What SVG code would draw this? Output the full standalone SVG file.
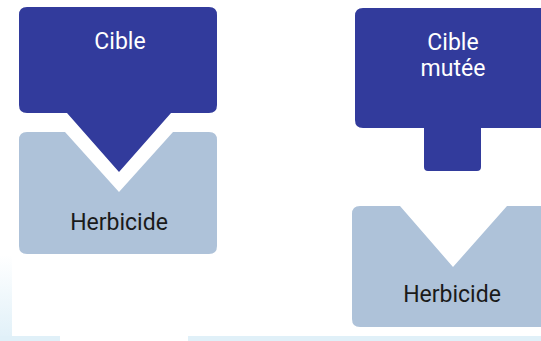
<svg xmlns="http://www.w3.org/2000/svg" width="541" height="341" viewBox="0 0 541 341">
<style>
.target{fill:#323b9c}
.herb{fill:#aec2d9}
.lw{font-family:Roboto,"Liberation Sans",sans-serif;font-size:23px;fill:#ffffff;text-anchor:middle}
.lb{font-family:Roboto,"Liberation Sans",sans-serif;font-size:23px;fill:#1a1a1a;text-anchor:middle}
</style>
<defs>
<linearGradient id="fade" x1="0" y1="0" x2="0" y2="1">
<stop offset="0" stop-color="#e0f0f8" stop-opacity="0"/>
<stop offset="1" stop-color="#e0f0f8"/>
</linearGradient>
</defs>
<rect width="541" height="341" fill="#ffffff"/>
<g id="background">
<rect x="0" y="255" width="12" height="86" fill="url(#fade)"/>
<rect x="0" y="336" width="60" height="5" fill="#e0f0f8"/>
<rect x="188" y="336" width="353" height="5" fill="#e0f0f8"/>
</g>
<g id="cible">
<path class="target" d="M27 7 H209 Q217 7 217 15 V105 Q217 113 209 113 H171 L119 172 L67 113 H27 Q19 113 19 105 V15 Q19 7 27 7 Z"/>
<text class="lw" x="120" y="49">Cible</text>
</g>
<g id="herbicide1">
<path class="herb" d="M27 132 H65 L119 192 L173 132 H209 Q217 132 217 140 V246 Q217 254 209 254 H27 Q19 254 19 246 V140 Q19 132 27 132 Z"/>
<text class="lb" x="119" y="230">Herbicide</text>
</g>
<g id="cible-mutee">
<path class="target" d="M363 8 H545 Q553 8 553 16 V120 Q553 128 545 128 H481 V167 Q481 171 477 171 H428 Q424 171 424 167 V128 H363 Q355 128 355 120 V16 Q355 8 363 8 Z"/>
<text class="lw" x="453" y="50">Cible</text>
<text class="lw" x="453" y="76">mutée</text>
</g>
<g id="herbicide2">
<path class="herb" d="M360 206 H400 L453 267 L507 206 H542 Q550 206 550 214 V319 Q550 327 542 327 H360 Q352 327 352 319 V214 Q352 206 360 206 Z"/>
<text class="lb" x="452" y="302">Herbicide</text>
</g>
<g id="connectors"></g>
</svg>
